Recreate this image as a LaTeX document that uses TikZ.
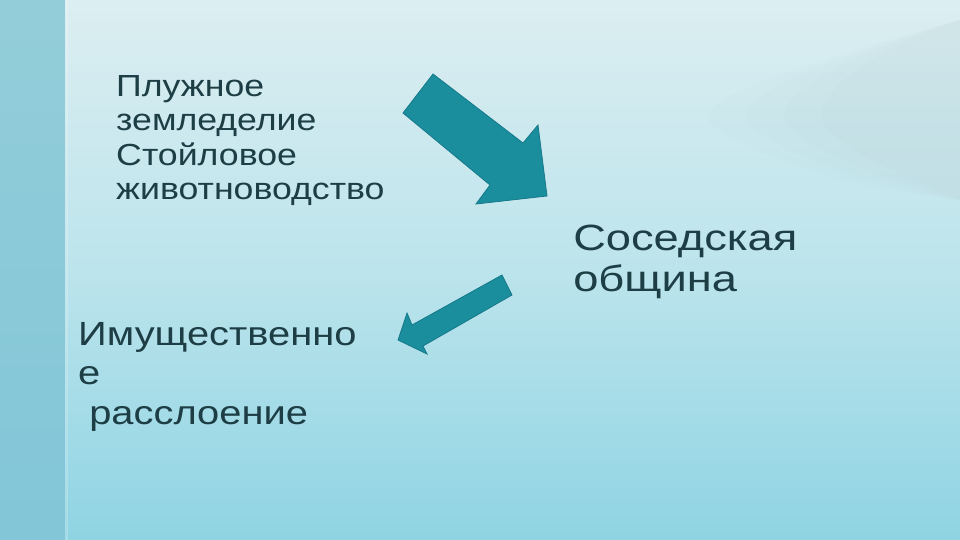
\documentclass[tikz,border=0pt]{standalone}
\usepackage{fontspec}
\setmainfont{Liberation Sans}
\definecolor{bgtop}{HTML}{DCEEF1}
\definecolor{bgmid}{HTML}{BCE4EC}
\definecolor{bgbot}{HTML}{8FD4E3}
\definecolor{striptop}{HTML}{93CDD9}
\definecolor{stripbot}{HTML}{82C6D8}
\definecolor{blob}{HTML}{B5CFCF}
\definecolor{arrowfill}{HTML}{1B8E9E}
\definecolor{arrowedge}{HTML}{16798A}
\definecolor{txt}{HTML}{1E3E46}
\tikzset{
  blockarrow/.style={fill=arrowfill, draw=arrowedge, line width=0.8pt, line join=miter},
  lbl/.style={anchor=north west, inner sep=0pt, align=left, text=txt, transform shape}
}
\begin{document}
\begin{tikzpicture}[x=1pt,y=-1pt]
\useasboundingbox (0,0) rectangle (960,540);
% background
\shade[top color=bgtop, bottom color=bgbot, middle color=bgmid] (0,0) rectangle (960,540);
\foreach \o/\s in {0.06/1.0, 0.06/0.85, 0.06/0.7, 0.06/0.55}{
  \fill[blob, opacity=\o] (960,20) .. controls ({960-220*\s},{40+40*\s}) and ({960-280*\s},{110}) .. ({960-240*\s},{130}) .. controls ({960-180*\s},{150+20*\s}) and ({960-80*\s},{170+20*\s}) .. (960,{200}) -- cycle;
}
\shade[top color=striptop, bottom color=stripbot] (0,0) rectangle (65,540);
\fill[white, opacity=0.2] (65,0) rectangle (68,540);
% arrows
\draw[blockarrow] (403,113) -- (433,74) -- (523,143) -- (538,125) -- (547,196) -- (476,204) -- (490,185) -- cycle;
\draw[blockarrow] (502,275) -- (512,295) -- (423,346) -- (427,354) -- (398,340) -- (407,313) -- (412,325) -- cycle;
% texts
\node[lbl, xscale=1.17, font=\fontsize{30.5}{34.5}\selectfont] (t1) at (116,75) {Плужное\\земледелие\\Стойловое\\животноводство};
\node[lbl, xscale=1.24, font=\fontsize{36.5}{41}\selectfont] (t2) at (573,225) {Соседская\\община};
\node[lbl, xscale=1.19, font=\fontsize{33.5}{39.5}\selectfont] (t3) at (78,322) {Имущественно\\е\\\ расслоение};
\end{tikzpicture}
\end{document}
